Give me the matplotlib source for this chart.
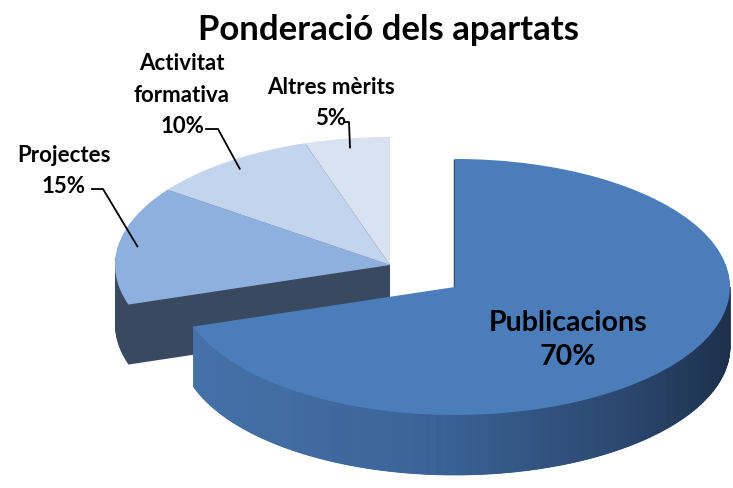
import numpy as np
import matplotlib
matplotlib.use("Agg")
import matplotlib.pyplot as plt
from matplotlib.colors import LinearSegmentedColormap

# datos del grafico
categories = ["Publicacions", "Projectes", "Activitat\nformativa", "Altres mèrits"]
values = [70, 15, 10, 5]
pct_labels = ["70%", "15%", "10%", "5%"]
explode = [0.292, 0, 0, 0]

top_colors = ["#4b7dba", "#8db0df", "#c3d5ee", "#d8e2f0"]
side_dark = "#39495f"
pub_side = "#36598a"
side_cmap = LinearSegmentedColormap.from_list(
    "side", [(0, "#4672a9"), (0.45, "#3b6397"), (0.8, "#2b4870"), (1, "#1d314c")])

plt.rcParams['font.family'] = ['Lato', 'DejaVu Sans']

W, H = 733, 488
CX, CY = 390, 265      # centro del pastel en pixeles
RX, RY = 275, 128      # radios de la elipse en pixeles
fig = plt.figure(figsize=(W / 100, H / 100), dpi=100, facecolor='white')
ax = fig.add_axes([0, 0, 1, 1])

depth = 60 / RY     # grosor del "pastel" en radios (eje y)
nlayer = 40

# capas apiladas para el lateral
for k in range(nlayer):
    off = -depth * (1 - k / nlayer)
    wedges, _ = ax.pie(values, explode=explode, startangle=90, counterclock=False,
                       center=(0, off), colors=[pub_side] + [side_dark] * 3,
                       wedgeprops=dict(linewidth=0))
    wedges[0].set_zorder(3)
    for w in wedges[1:]:
        w.set_zorder(1)

# cara superior
tops, _ = ax.pie(values, explode=explode, startangle=90, counterclock=False,
                 colors=top_colors, wedgeprops=dict(linewidth=0))
tops[0].set_zorder(5)
for w in tops[1:]:
    w.set_zorder(2)

# degradado en la pared frontal de Publicacions
pub = tops[0]
cx, cy = pub.center
lo, hi = max(pub.theta1, -180), min(pub.theta2, 0)
th = np.radians(np.linspace(lo, hi, 160))
x0 = np.cos(th[0])
for a, b in zip(th[:-1], th[1:]):
    xs = [cx + np.cos(a), cx + np.cos(b), cx + np.cos(b), cx + np.cos(a)]
    ys = [cy + np.sin(a), cy + np.sin(b), cy + np.sin(b) - depth, cy + np.sin(a) - depth]
    t = (np.cos((a + b) / 2) - x0) / (1 - x0)
    c = side_cmap(t)
    ax.fill(xs, ys, facecolor=c, edgecolor=c, lw=0.6, zorder=4)

# canto del corte vertical de Publicacions
a2 = np.radians(pub.theta2)
ax.plot([cx, cx + np.cos(a2)], [cy, cy + np.sin(a2)], color="#2c4a72", lw=2.5,
        solid_capstyle='butt', zorder=4.5)

ax.set_xlim(-CX / RX, (W - CX) / RX)
ax.set_ylim(-(H - CY) / RY, CY / RY)
ax.set_aspect('auto')
ax.axis('off')


def fig2data(x, y):
    # pixeles de la figura (desde arriba) -> datos
    return ax.transData.inverted().transform((x, H - y))


# titulo
fig.text(388 / W, 1 - 30 / H, "Ponderació dels apartats", ha='center', va='center',
         fontsize=25, fontweight='bold')

# etiqueta interior
ax.text(*fig2data(568, 340), categories[0] + "\n" + pct_labels[0], ha='center', va='center',
        fontsize=20.5, fontweight='bold', color='black', linespacing=1.4, zorder=10)

# etiquetas exteriores con lineas guia
label_pos = [None, (64, 171), (182, 95), (331, 103)]
elbows = [None, [(92, 189), (103, 189)], [(206, 129), (218, 129)], [(345, 122), (349, 122)]]
for i in range(1, 4):
    w = tops[i]
    mid = np.radians((w.theta1 + w.theta2) / 2)
    ax_, ay_ = w.center[0] + 0.93 * np.cos(mid), w.center[1] + 0.93 * np.sin(mid)
    txt = categories[i] + "\n" + pct_labels[i]
    ax.text(*fig2data(*label_pos[i]), txt, ha='center', va='center', fontsize=16,
            fontweight='bold', linespacing=1.6, zorder=10)
    pts = [fig2data(*p) for p in elbows[i]] + [(ax_, ay_)]
    ax.plot([p[0] for p in pts], [p[1] for p in pts], color='black', lw=1.3, zorder=10)

fig.savefig("out.png", dpi=100, facecolor='white')
